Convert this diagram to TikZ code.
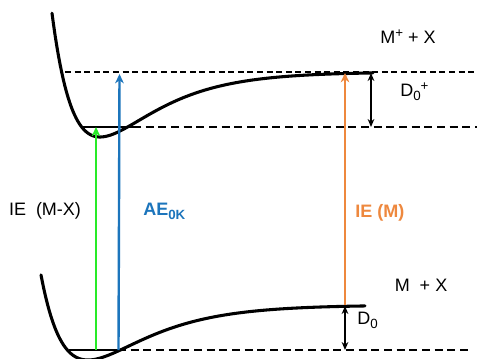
\documentclass[tikz,border=0pt]{standalone}
\usepackage{fontspec}
\setmainfont{Liberation Sans}
\usetikzlibrary{arrows.meta}
\definecolor{cgreen}{RGB}{40,235,40}
\definecolor{cblue}{RGB}{28,117,188}
\definecolor{corange}{RGB}{238,136,62}
\newcommand{\lbsub}[1]{\raisebox{-3.2pt}{\fontsize{10}{10}\selectfont #1}}
\newcommand{\lbsup}[1]{\raisebox{4.5pt}{\fontsize{10}{10}\selectfont #1}}
\tikzset{
  curve/.style={line width=2.3pt, line cap=round},
  level/.style={line width=1.7pt},
  dashtop/.style={line width=1.2pt, dash pattern=on 4.5pt off 2.7pt},
  dashlow/.style={line width=1.2pt, dash pattern=on 6pt off 3.5pt},
  tr/.style={line width=1.8pt, -{Stealth[length=7pt,width=6.5pt]}},
  dbl/.style={line width=1.6pt, {Stealth[length=6pt,width=5pt]}-{Stealth[length=6pt,width=5pt]}},
  lbl/.style={font=\fontsize{13.5}{15}\selectfont, inner sep=0pt},
}
\begin{document}
\begin{tikzpicture}[x=0.75pt,y=-0.75pt]
\clip (0,0) rectangle (477,358);
\fill[white] (0,0) rectangle (477,358);
% potential curves
\draw[curve] plot[domain=52:373, samples=200] (\x, {137 - 65*(1-exp(-0.01807*(\x-100)))^2});
\draw[curve] plot[domain=41:365, samples=200] (\x, {360 - 55*(1-exp(-0.0172*(\x-88)))^2});
% coordinates
\coordinate (topL) at (65,72);
\coordinate (topR) at (477,72);
\coordinate (upL) at (82,127);
\coordinate (upM) at (133,127);
\coordinate (upR) at (477,127);
\coordinate (loL) at (69,350);
\coordinate (loM) at (118,350);
\coordinate (loR) at (470,350);
\coordinate (gB) at (96,350);
\coordinate (gT) at (96,127);
\coordinate (bB) at (118.5,350);
\coordinate (bT) at (119.5,74);
\coordinate (oB) at (345,305);
\coordinate (oT) at (345,73);
\coordinate (dpB) at (371,127);
\coordinate (dpT) at (371,73);
\coordinate (dB) at (345,350);
\coordinate (dT) at (345,306);
% levels
\draw[dashtop] (topL) -- (topR);
\draw[level] (upL) -- (upM);
\draw[dashlow] (upM) -- (upR);
\draw[level] (loL) -- (loM);
\draw[dashlow] (loM) -- (loR);
% transitions
\draw[tr, cgreen] (gB) -- (gT);
\draw[tr, cblue] (bB) -- (bT);
\draw[tr, corange] (oB) -- (oT);
\draw[dbl] (dpB) -- (dpT);
\draw[dbl] (dB) -- (dT);
% labels
\node[lbl] (mpx) at (408,37) {M\lbsup{+} + X};
\node[lbl, anchor=west] (dzp) at (400,92) {D\lbsub{0}\lbsup{+}};
\node[lbl] (iemx) at (45,211) {IE\ \ (M-X)};
\node[lbl, anchor=west, text=cblue, font=\fontsize{13.5}{15}\selectfont\bfseries] (ae) at (143,211) {AE\lbsub{\bfseries 0K}};
\node[lbl, anchor=west, text=corange, font=\fontsize{13.5}{15}\selectfont\bfseries] (iem) at (355,213) {IE (M)};
\node[lbl] (mx) at (421,285) {M\ \ + X};
\node[lbl, anchor=west] (dz) at (357,320) {D\lbsub{0}};
\end{tikzpicture}
\end{document}
